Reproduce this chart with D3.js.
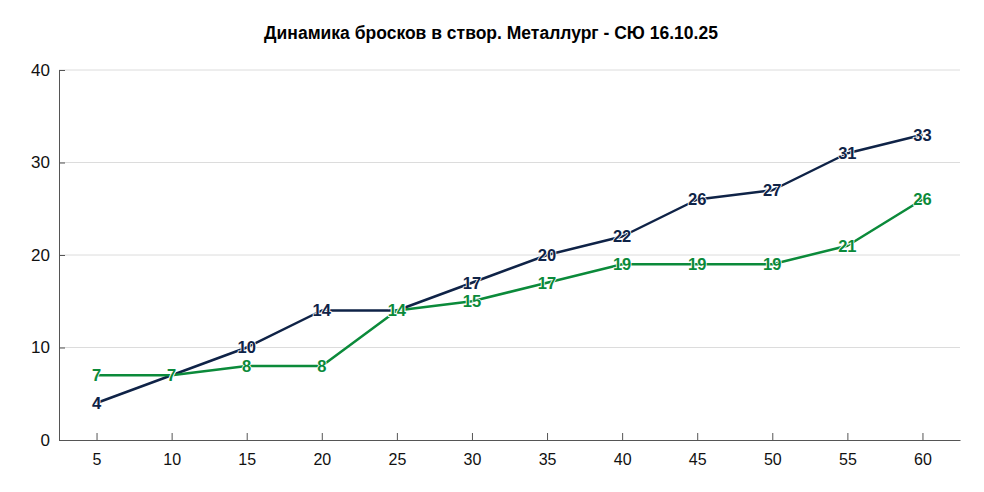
<!DOCTYPE html>
<html>
<head>
<meta charset="utf-8">
<script src="https://cdn.jsdelivr.net/npm/d3@7"></script>
<style>
  body { margin: 0; background: #fff; }
  svg { font-family: "Liberation Sans", Arial, sans-serif; }
</style>
</head>
<body>
<div id="chart"></div>
<script>
// Data
const minutes = [5, 10, 15, 20, 25, 30, 35, 40, 45, 50, 55, 60];
const metallurg = [4, 7, 10, 14, 14, 17, 20, 22, 26, 27, 31, 33];
const syu = [7, 7, 8, 8, 14, 15, 17, 19, 19, 19, 21, 26];
const yTicks = [0, 10, 20, 30, 40];

const width = 984;
const height = 492;
const margin = { top: 70, right: 24, bottom: 52, left: 59 };

const svg = d3.select("#chart")
    .append("svg")
    .attr("width", width)
    .attr("height", height);

const x = d3.scalePoint()
    .domain(minutes)
    .range([margin.left, width - margin.right])
    .padding(0.5);

const y = d3.scaleLinear()
    .domain([0, 40])
    .range([height - margin.bottom, margin.top]);

// title
svg.append("text")
    .attr("x", width / 2 - 1)
    .attr("y", 39)
    .attr("text-anchor", "middle")
    .style("font-size", "17.5px")
    .style("font-weight", "bold")
    .text("Динамика бросков в створ. Металлург - СЮ 16.10.25");

// gridlines
svg.append("g")
    .selectAll("line")
    .data(yTicks.filter(d => d > 0))
    .enter()
    .append("line")
    .attr("x1", margin.left)
    .attr("x2", width - margin.right)
    .attr("y1", d => y(d))
    .attr("y2", d => y(d))
    .style("stroke", "#dcdcdc")
    .style("stroke-width", 1);

// y axis
const yAxis = svg.append("g")
    .attr("transform", `translate(${margin.left},0)`)
    .call(d3.axisLeft(y).tickValues(yTicks).tickSize(-6).tickPadding(9));
yAxis.select(".domain").attr("stroke", "#555");
yAxis.selectAll(".tick line").attr("stroke", "#555");
yAxis.selectAll("text").style("font-size", "17px").attr("fill", "#111");

// x axis
const xAxis = svg.append("g")
    .attr("transform", `translate(0,${height - margin.bottom})`)
    .call(d3.axisBottom(x).tickSize(-7).tickPadding(14).tickSizeOuter(0));
xAxis.select(".domain").attr("stroke", "#555");
xAxis.selectAll(".tick line").attr("stroke", "#555");
xAxis.selectAll("text").style("font-size", "16px").attr("fill", "#111");

const series = [
    { name: "Металлург", values: metallurg, color: "#0f2347" },
    { name: "СЮ", values: syu, color: "#0b8a3a" }
];

const line = d3.line()
    .x((d, i) => x(minutes[i]))
    .y(d => y(d));

// lines
series.forEach(s => {
    svg.append("path")
        .datum(s.values)
        .attr("d", line)
        .style("fill", "none")
        .style("stroke", s.color)
        .style("stroke-width", 2.5)
        .style("stroke-linejoin", "round");
});

// point labels
series.forEach(s => {
    svg.append("g")
        .selectAll("text")
        .data(s.values)
        .enter()
        .append("text")
        .attr("x", (d, i) => x(minutes[i]))
        .attr("y", d => y(d))
        .attr("dy", "0.36em")
        .attr("text-anchor", "middle")
        .style("font-size", "16.5px")
        .style("font-weight", "bold")
        .style("fill", s.color)
        .style("stroke", "#fff")
        .style("stroke-width", 1.5)
        .style("paint-order", "stroke")
        .text(d => d);
});
</script>
</body>
</html>
